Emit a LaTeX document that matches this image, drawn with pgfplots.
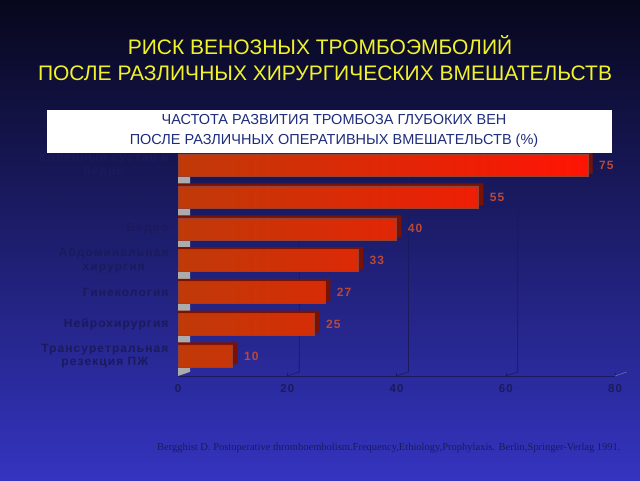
\documentclass[border=0pt]{standalone}
\usepackage{pgfplots}
\pgfplotsset{compat=1.18}
\usepackage{fontspec}
\setmainfont{Liberation Sans}
\newfontfamily\serif{Liberation Serif}
\newfontfamily\wide[LetterSpace=9]{Liberation Sans}

\definecolor{bgtop}{HTML}{07071C}
\definecolor{bgmid}{HTML}{1E1E78}
\definecolor{bgbot}{HTML}{3434C0}
\definecolor{navy}{HTML}{1A1A5C}
\definecolor{boxtext}{HTML}{1E2C7C}
\definecolor{titleyel}{HTML}{F2F22A}
\definecolor{bardark}{HTML}{C03A08}
\definecolor{barbright}{HTML}{FF1404}
\definecolor{sidered}{HTML}{7A1204}
\definecolor{numred}{HTML}{B84838}

\begin{document}
\begin{tikzpicture}[x=1pt,y=1pt]
% background
\shade[top color=bgtop, middle color=bgmid, bottom color=bgbot] (0,0) rectangle (640,480);

\begin{axis}[
    at={(178pt,104pt)}, anchor=south west,
    scale only axis,
    width=437pt, height=226.7pt,
    xmin=0, xmax=80,
    ymin=-0.63, ymax=6.5,
    axis x line*=bottom,
    axis y line*=left,
    y axis line style={draw=none},
    x axis line style={draw=navy, line width=0.6pt},
    xtick={0,20,40,60,80},
    xtick align=inside,
    xtick style={draw=navy},
    major tick length=3pt,
    ytick={0,1,2,3,4,5,6},
    ytick style={draw=none},
    yticklabels={
      {Трансуретральная\\резекция ПЖ},
      {Нейрохирургия},
      {Гинекология},
      {Абдоминальная\\хирургия},
      {Бедро},
      {Ретропубичная\\простатэктомия},
      {Коленный сустав и\\бедро}},
    yticklabel style={align=center, text=navy, font=\wide\bfseries\fontsize{12}{13.5}\selectfont, xshift=-6pt},
    xticklabel style={text=navy, font=\wide\bfseries\fontsize{11.5}{12}\selectfont, yshift=-5pt},
    /pgf/number format/assume math mode=true,
    clip=false,
]
% left wall and back grid lines
\fill[gray!65] (axis cs:0,-0.63) -- (axis cs:2.2,-0.5) -- (axis cs:2.2,6.5) -- (axis cs:0,6.5) -- cycle;
\draw[navy, line width=0.6pt] (axis cs:20,-0.63) -- (axis cs:22.2,-0.5) -- (axis cs:22.2,6.5);
\draw[navy, line width=0.6pt] (axis cs:40,-0.63) -- (axis cs:42.2,-0.5) -- (axis cs:42.2,6.5);
\draw[navy, line width=0.6pt] (axis cs:60,-0.63) -- (axis cs:62.2,-0.5) -- (axis cs:62.2,6.5);
\draw[navy!60, line width=0.5pt] (axis cs:80,-0.63) -- (axis cs:82.2,-0.5);

% 3D side / top of the bars
\addplot[xbar, bar width=22pt, bar shift=2.5pt, fill=sidered, draw=none]
  coordinates {(10.9,0) (25.9,1) (27.9,2) (33.9,3) (40.9,4) (55.9,5) (75.9,6)};
% front faces
\addplot[xbar, bar width=22pt, bar shift=0pt, left color=bardark, right color=barbright, draw=sidered!80, line width=0.3pt,
  nodes near coords, point meta=x,
  every node near coord/.append style={text=numred, font=\wide\bfseries\fontsize{12}{13}\selectfont, xshift=8pt}]
  coordinates {(10,0) (25,1) (27,2) (33,3) (40,4) (55,5) (75,6)};
\end{axis}

% subtitle box
\fill[white] (47,327) rectangle (612,370);
\node[text=boxtext, font=\fontsize{14.5}{16}\selectfont] at (334,360) {ЧАСТОТА РАЗВИТИЯ ТРОМБОЗА ГЛУБОКИХ ВЕН};
\node[text=boxtext, font=\fontsize{14.5}{16}\selectfont] at (334,339) {ПОСЛЕ РАЗЛИЧНЫХ ОПЕРАТИВНЫХ ВМЕШАТЕЛЬСТВ (\%)};

% title
\node[text=titleyel, font=\fontsize{21}{23}\selectfont] at (320,435) {РИСК ВЕНОЗНЫХ ТРОМБОЭМБОЛИЙ};
\node[text=titleyel, font=\fontsize{21}{23}\selectfont] at (325,407) {ПОСЛЕ РАЗЛИЧНЫХ ХИРУРГИЧЕСКИХ ВМЕШАТЕЛЬСТВ};

% reference
\node[anchor=west, text=navy, font=\serif\fontsize{10.5}{12}\selectfont, inner sep=0pt] at (157,32)
  {Bergghist D. Postoperative thromboembolism.Frequency,Ethiology,Prophylaxis. Berlin,Springer-Verlag 1991.};
\end{tikzpicture}
\end{document}
